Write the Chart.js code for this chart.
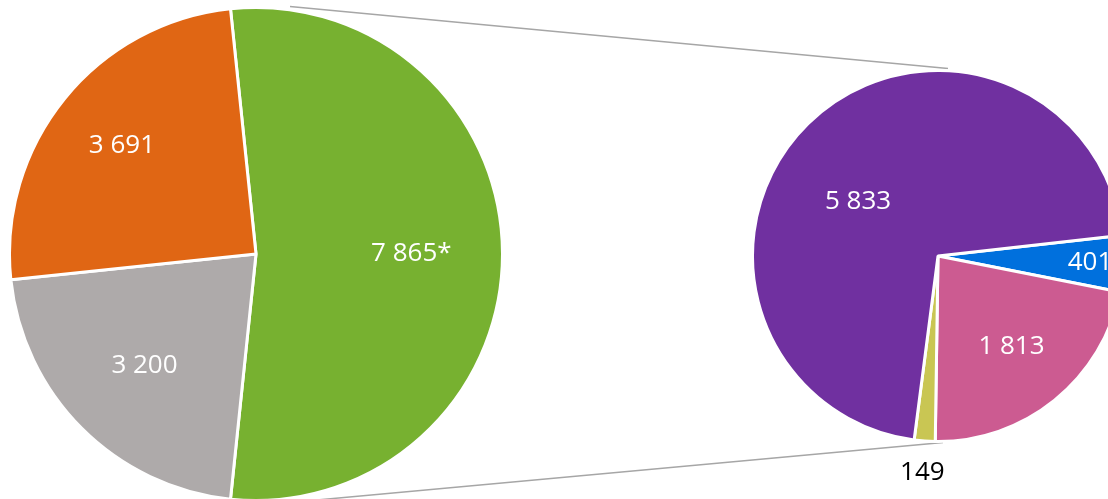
<!DOCTYPE html>
<html>
<head>
<meta charset="utf-8">
<script src="https://cdn.jsdelivr.net/npm/chart.js@4.4.1/dist/chart.umd.min.js"></script>
<style>
  html, body { margin: 0; padding: 0; background: #fff; overflow: hidden; }
  body { width: 1108px; height: 499px; position: relative; }
  .box { position: absolute; }
  #lines { position: absolute; left: 0; top: 0; z-index: 0; }
  #mainBox { left: 8px; top: 6px; width: 496px; height: 496px; z-index: 1; }
  #subBox { left: 751px; top: 69px; width: 374px; height: 430px; z-index: 1; }
</style>
</head>
<body>
<canvas id="lines" width="1108" height="499"></canvas>
<div class="box" id="mainBox"><canvas id="mainPie"></canvas></div>
<div class="box" id="subBox"><canvas id="subPie"></canvas></div>
<script>
// main pie (clockwise from the green slice)
const mainCategories = ["Green", "Grey", "Orange"];
const mainValues = [7865, 3200, 3691];
const mainNotes = ["*", "", ""];
const mainColors = ["#77b130", "#aeaaaa", "#e06614"];

// breakdown pie (clockwise from the blue slice)
const subCategories = ["Blue", "Pink", "Yellow", "Purple"];
const subValues = [401, 1813, 149, 5833];
const subColors = ["#0070dd", "#cc5b91", "#c9c653", "#7030a0"];

const fmt = v => String(v).replace(/\B(?=(\d{3})+(?!\d))/g, " ");

// label distance from centre, as part of the radius
const mainLabelPos = [0.63, 0.64, 0.70];
const subLabelPos = [0.82, 0.63, 1.17, 0.52];
const subLabelColor = ["#fff", "#fff", "#000", "#fff"];

const sliceLabels = {
  id: "sliceLabels",
  afterDatasetsDraw(chart, args, opts) {
    const ctx = chart.ctx;
    const arcs = chart.getDatasetMeta(0).data;
    const values = chart.data.datasets[0].data;
    ctx.save();
    ctx.font = "26px 'Open Sans'";
    ctx.textAlign = "center";
    ctx.textBaseline = "middle";
    arcs.forEach((arc, i) => {
      const mid = (arc.startAngle + arc.endAngle) / 2 + (opts.shift ? opts.shift[i] : 0);
      const r = arc.outerRadius * opts.pos[i];
      ctx.fillStyle = opts.colors ? opts.colors[i] : "#fff";
      ctx.fillText(fmt(values[i]) + (opts.notes ? opts.notes[i] : ""),
        arc.x + Math.cos(mid) * r, arc.y + Math.sin(mid) * r);
    });
    ctx.restore();
  }
};

const greenSweep = mainValues[0] / mainValues.reduce((a, b) => a + b, 0) * 360;

const mainChart = new Chart(document.getElementById("mainPie"), {
  type: "pie",
  data: {
    labels: mainCategories,
    datasets: [{ data: mainValues, backgroundColor: mainColors, borderColor: "#fff", borderWidth: 3 }]
  },
  options: {
    responsive: true,
    maintainAspectRatio: false,
    animation: false,
    rotation: 90 - greenSweep / 2,
    layout: { padding: 0 },
    plugins: {
      legend: { display: false },
      tooltip: { enabled: false },
      sliceLabels: { pos: mainLabelPos, notes: mainNotes }
    }
  },
  plugins: [sliceLabels]
});

const subChart = new Chart(document.getElementById("subPie"), {
  type: "pie",
  data: {
    labels: subCategories,
    datasets: [{ data: subValues, backgroundColor: subColors, borderColor: "#fff", borderWidth: 3 }]
  },
  options: {
    responsive: true,
    maintainAspectRatio: false,
    animation: false,
    rotation: 83.6,
    layout: { padding: { bottom: 56 } },
    plugins: {
      legend: { display: false },
      tooltip: { enabled: false },
      sliceLabels: { pos: subLabelPos, colors: subLabelColor, shift: [0, 0, 0, -0.2] }
    }
  },
  plugins: [sliceLabels]
});

// connector lines, running under the pies towards the breakdown pie
function drawConnectors() {
  const ctx = document.getElementById("lines").getContext("2d");
  const g = mainChart.getDatasetMeta(0).data[0];
  const s = subChart.getDatasetMeta(0).data[0];
  const mb = document.getElementById("mainBox"), sb = document.getElementById("subBox");
  const gx = mb.offsetLeft + g.x, gy = mb.offsetTop + g.y;
  const sx = sb.offsetLeft + s.x, sy = sb.offsetTop + s.y;
  const R = g.outerRadius, r = s.outerRadius;
  ctx.strokeStyle = "#a6a6a6";
  ctx.lineWidth = 1.5;
  ctx.beginPath();
  ctx.moveTo(gx + 34, gy - R - 1);
  ctx.lineTo(sx + 10, sy - r - 2);
  ctx.moveTo(gx - 10, gy + R + 6);
  ctx.lineTo(sx + 5, sy + r + 1);
  ctx.stroke();
}
drawConnectors();
</script>
</body>
</html>
